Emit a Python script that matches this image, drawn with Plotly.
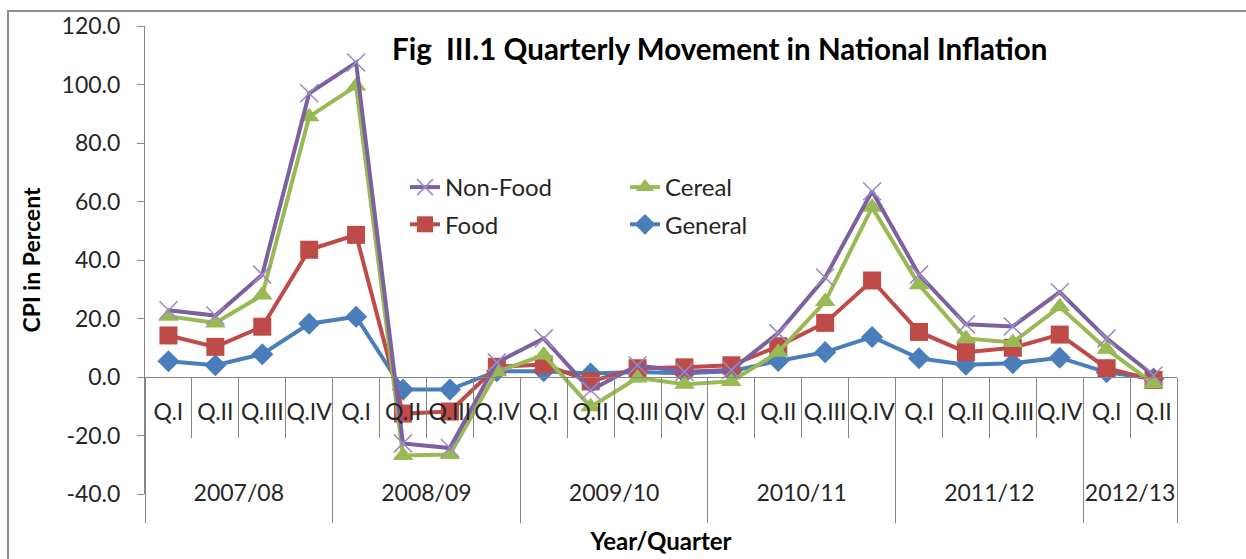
import plotly.graph_objects as go

years = ["2007/08", "2008/09", "2009/10", "2010/11", "2011/12", "2012/13"]
year_sizes = [4, 4, 4, 4, 4, 2]
quarters = ["Q.I", "Q.II", "Q.III", "Q.IV",
            "Q.I", "Q.II", "Q.III", "Q.IV",
            "Q.I", "Q.II", "Q.III", "QIV",
            "Q.I", "Q.II", "Q.III", "Q.IV",
            "Q.I", "Q.II", "Q.III", "Q.IV",
            "Q.I", "Q.II"]

general = [5.4, 4.0, 7.8, 18.2, 20.6, -4.3, -4.3, 2.0, 2.0, 1.2, 1.7, 1.3,
           2.0, 5.5, 8.5, 13.7, 6.4, 4.2, 4.7, 6.6, 1.6, -0.5]
food = [14.2, 10.3, 17.2, 43.5, 48.6, -12.5, -11.8, 3.5, 4.3, -1.5, 3.0, 3.3,
        4.0, 10.5, 18.5, 33.0, 15.4, 8.5, 10.0, 14.5, 3.0, -1.0]
cereal = [20.8, 18.5, 28.0, 89.0, 99.5, -26.8, -26.5, 1.8, 7.5, -10.2, -0.3, -2.5,
          -1.5, 8.5, 25.8, 58.0, 31.5, 13.2, 11.8, 24.0, 9.5, -2.3]
nonfood = [22.8, 21.0, 35.0, 97.0, 107.5, -22.7, -24.3, 5.0, 13.2, -4.5, 4.0, 1.8,
           2.4, 15.0, 34.0, 63.5, 35.0, 18.0, 17.3, 29.0, 13.2, 0.5]

y_ticks = [-40, -20, 0, 20, 40, 60, 80, 100, 120]
y_ticktext = [f"{v:.1f}" for v in y_ticks]

idx = list(range(len(quarters)))

# year group centres and boundaries derived from group sizes
year_centres, year_bounds = [], [-0.5]
start = 0
for n in year_sizes:
    year_centres.append(start + (n - 1) / 2)
    start += n
    year_bounds.append(start - 0.5)
quarter_bounds = [i + 0.5 for i in idx[:-1]]

FONT = "Lato"
TXT = "#262626"
AX = "#868686"

fig = go.Figure()

series = [
    ("General", general, "#4A7EBB", "diamond", 17, None, "legend2", 2),
    ("Food", food, "#BE4B48", "square", 18, None, "legend", 2),
    ("Cereal", cereal, "#98B954", "triangle-up", 18, None, "legend2", 1),
    ("Non-Food", nonfood, "#7D60A0", "x-thin", 18, "#9C8AC4", "legend", 1),
]
for name, vals, col, sym, size, mline, leg, rank in series:
    marker = dict(symbol=sym, size=size, color=col)
    if mline:
        marker["line"] = dict(color=mline, width=1.5)
    fig.add_trace(go.Scatter(
        x=idx, y=vals, name=name, mode="lines+markers",
        line=dict(color=col, width=4), marker=marker,
        legend=leg, legendgroup=name, legendrank=rank,
        text=quarters, hovertemplate="%{text}: %{y:.1f}<extra>" + name + "</extra>",
    ))

# empty trace so the year axis is drawn
fig.add_trace(go.Scatter(x=[], y=[], xaxis="x2", yaxis="y", showlegend=False,
                         hoverinfo="skip"))

zero_pos = 40 / 160

fig.update_layout(
    width=1246, height=559,
    margin=dict(l=145, r=69, t=26, b=65, autoexpand=False),
    paper_bgcolor="white", plot_bgcolor="white",
    font=dict(family=FONT, color=TXT, size=23),
    showlegend=True,
    title=dict(text="<b>Fig  III.1 Quarterly Movement in National Inflation</b>",
               font=dict(family=FONT, size=29.5, color="black"),
               x=(392 - 145) / 1032, xref="paper", xanchor="left",
               y=1 - 50 / 559, yref="container", yanchor="middle"),
    xaxis=dict(
        range=[-0.5, 21.5], anchor="free", position=zero_pos, automargin=False,
        showline=True, linecolor=AX, linewidth=1,
        showgrid=False, zeroline=False,
        tickmode="array", tickvals=idx, ticktext=quarters,
        ticks="", ticklabelstandoff=14,
        tickfont=dict(family=FONT, size=23, color=TXT),
        minor=dict(tickmode="array", tickvals=quarter_bounds, ticks="outside",
                   ticklen=60, tickcolor=AX, tickwidth=1, showgrid=False),
    ),
    xaxis2=dict(
        range=[-0.5, 21.5], overlaying="x", anchor="free", position=zero_pos,
        automargin=False,
        showline=False, showgrid=False, zeroline=False,
        tickmode="array", tickvals=year_centres, ticktext=years,
        ticks="", ticklabelstandoff=100,
        tickfont=dict(family=FONT, size=23, color=TXT),
        minor=dict(tickmode="array", tickvals=year_bounds, ticks="outside",
                   ticklen=145, tickcolor=AX, tickwidth=1, showgrid=False),
        title=dict(text="<b>Year/Quarter</b>", font=dict(family=FONT, size=24, color="black"),
                   standoff=28),
    ),
    yaxis=dict(
        range=[-40, 120], tickmode="array", tickvals=y_ticks, ticktext=y_ticktext,
        automargin=False,
        showline=True, linecolor=AX, linewidth=1,
        showgrid=False, zeroline=False,
        ticks="outside", ticklen=7, tickcolor=AX, ticklabelstandoff=12,
        tickfont=dict(family=FONT, size=23, color=TXT),
        title=dict(text="<b>CPI in Percent</b>", font=dict(family=FONT, size=23, color="black"),
                   standoff=14),
    ),
    legend=dict(x=(405 - 145) / 1032, y=(494 - 165) / 468, xanchor="left", yanchor="top",
                font=dict(family=FONT, size=24, color=TXT), bgcolor="rgba(0,0,0,0)",
                traceorder="grouped", tracegroupgap=3),
    legend2=dict(x=(625 - 145) / 1032, y=(494 - 165) / 468, xanchor="left", yanchor="top",
                 font=dict(family=FONT, size=24, color=TXT), bgcolor="rgba(0,0,0,0)",
                 traceorder="grouped", tracegroupgap=3),
    shapes=[dict(type="rect", xref="paper", yref="paper",
                 x0=(8 - 145) / 1032, x1=1.1, y0=-0.2, y1=(494 - 11) / 468,
                 line=dict(color="#8C8C8C", width=2), layer="below")],
)

fig.write_html("out.html")
